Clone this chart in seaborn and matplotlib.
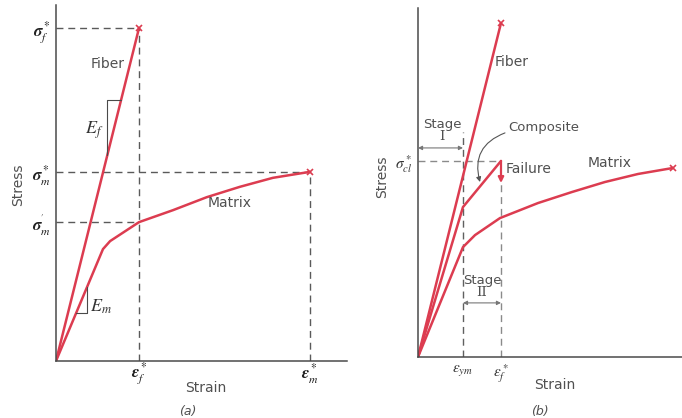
import matplotlib
matplotlib.use("Agg")
import matplotlib.pyplot as plt
import seaborn as sns
import pandas as pd

# ---- panel (a): single fibre vs matrix (normalised units) ----
eps_f_a = 0.327          # fibre failure strain
eps_m_a = 1.0            # matrix failure strain
sig_f_a = 1.0            # fibre strength
sig_m_star = 0.568       # matrix strength
sig_m_prime = 0.417      # matrix stress at fibre failure strain

fiber_a_strain = [0.0, eps_f_a]
fiber_a_stress = [0.0, sig_f_a]
matrix_a_strain = [0.0, 0.185, 0.213, 0.327, 0.461, 0.594, 0.724, 0.854, 1.0]
matrix_a_stress = [0.0, 0.336, 0.360, 0.417, 0.453, 0.492, 0.523, 0.550, 0.568]

# ---- panel (b): fibre, matrix and composite ----
eps_ym = 0.542
eps_f_b = 1.0
sig_cl = 0.587
fiber_b_strain = [0.0, 1.0]
fiber_b_stress = [0.0, 1.0]
comp_strain = [0.0, eps_ym, eps_f_b]
comp_stress = [0.0, 0.449, sig_cl]
comp_drop_to = 0.521
matrix_b_strain = [0.0, 0.542, 0.687, 0.988, 1.446, 1.855, 2.253, 2.651, 3.072]
matrix_b_stress = [0.0, 0.329, 0.365, 0.416, 0.461, 0.494, 0.524, 0.548, 0.566]

RED = "#dc3c50"
GRAY = "#4a4a4a"
DASH = "#5a5a5a"
TXT = "#505050"

W, H = 682, 418

sns.set_style("white")
plt.rcParams["mathtext.fontset"] = "stix"
plt.rcParams["font.family"] = ["DejaVu Sans"]

fig = plt.figure(figsize=(W / 100, H / 100), dpi=100)


def px(x, y):
    return x / W, 1 - y / H


def curve(ax, xs, ys):
    df = pd.DataFrame({"strain": xs, "stress": ys})
    sns.lineplot(data=df, x="strain", y="stress", ax=ax, color=RED, lw=1.8,
                 sort=False, estimator=None)
    ax.plot(xs[-1], ys[-1], marker="x", color=RED, ms=5, mew=1.2)


def dashed(ax, xs, ys, color=DASH):
    ax.plot(xs, ys, ls=(0, (5, 3.5)), color=color, lw=1.0)


def style_axes(ax, xpad=4):
    sns.despine(ax=ax)
    for s in ("left", "bottom"):
        ax.spines[s].set_color(GRAY)
        ax.spines[s].set_linewidth(1.1)
    ax.tick_params(axis="y", length=0, pad=4)
    ax.tick_params(axis="x", length=0, pad=xpad)
    ax.set_xlabel("")
    ax.set_ylabel("")


# ================= (a) =================
ax1 = fig.add_axes([56 / W, 1 - 361 / H, 291 / W, 356 / H])
ax1.set_xlim(0, 1.146)
ax1.set_ylim(0, 1.069)

dashed(ax1, [0, eps_f_a], [sig_f_a, sig_f_a])
dashed(ax1, [eps_f_a, eps_f_a], [0, sig_f_a])
dashed(ax1, [0, eps_m_a], [sig_m_star, sig_m_star])
dashed(ax1, [eps_m_a, eps_m_a], [0, sig_m_star])
dashed(ax1, [0, eps_f_a], [sig_m_prime, sig_m_prime])

curve(ax1, fiber_a_strain, fiber_a_stress)
curve(ax1, matrix_a_strain, matrix_a_stress)

# slope triangles
yf0, yf1 = 0.619, 0.784
ax1.plot([yf0 * eps_f_a, yf0 * eps_f_a, yf1 * eps_f_a], [yf0, yf1, yf1],
         color=GRAY, lw=0.8)
slope_m = matrix_a_stress[1] / matrix_a_strain[1]
xm0, xm1 = 0.079, 0.122
ax1.plot([xm0, xm1, xm1], [xm0 * slope_m, xm0 * slope_m, xm1 * slope_m],
         color=GRAY, lw=0.8)

ax1.text(0.150, 0.694, r"$E_f$", fontsize=13, ha="center", va="center", color="#333")
ax1.text(0.178, 0.162, r"$E_m$", fontsize=13, ha="center", va="center", color="#333")
ax1.text(0.205, 0.892, "Fiber", fontsize=10, ha="center", va="center", color=TXT)
ax1.text(0.685, 0.474, "Matrix", fontsize=10, ha="center", va="center", color=TXT)

ax1.set_yticks([sig_m_prime, sig_m_star, sig_f_a],
               [r"$\boldsymbol{\sigma}_m^{'}$", r"$\boldsymbol{\sigma}_m^*$",
                r"$\boldsymbol{\sigma}_f^*$"])
ax1.set_xticks([eps_f_a, eps_m_a],
               [r"$\boldsymbol{\epsilon}_f^*$", r"$\boldsymbol{\epsilon}_m^*$"])
style_axes(ax1, xpad=0)
for lab in ax1.get_xticklabels() + ax1.get_yticklabels():
    lab.set_fontsize(12)
    lab.set_color("#222")

# ================= (b) =================
ax2 = fig.add_axes([418 / W, 1 - 357 / H, 264 / W, 349 / H])
ax2.set_xlim(0, 3.181)
ax2.set_ylim(0, 1.045)

LDASH = "#8a8a8a"
dashed(ax2, [0, eps_f_b], [sig_cl, sig_cl], LDASH)
dashed(ax2, [eps_ym, eps_ym], [0, 0.674], "#606060")
dashed(ax2, [eps_f_b, eps_f_b], [0, comp_drop_to], LDASH)

curve(ax2, fiber_b_strain, fiber_b_stress)
df_c = pd.DataFrame({"strain": comp_strain, "stress": comp_stress})
sns.lineplot(data=df_c, x="strain", y="stress", ax=ax2, color=RED, lw=1.8,
             sort=False, estimator=None)
ax2.annotate("", xy=(eps_f_b, comp_drop_to), xytext=(eps_f_b, sig_cl),
             arrowprops=dict(arrowstyle="-|>", color=RED, lw=1.6,
                             mutation_scale=8, shrinkA=0, shrinkB=0))
curve(ax2, matrix_b_strain, matrix_b_stress)

# stage arrows
ax2.annotate("", xy=(0, 0.626), xytext=(eps_ym, 0.626),
             arrowprops=dict(arrowstyle="<|-|>", color="#777", lw=0.8,
                             mutation_scale=6, shrinkA=0, shrinkB=0))
ax2.annotate("", xy=(eps_ym, 0.162), xytext=(eps_f_b, 0.162),
             arrowprops=dict(arrowstyle="<|-|>", color="#777", lw=0.8,
                             mutation_scale=6, shrinkA=0, shrinkB=0))
ax2.text(0.289, 0.697, "Stage", fontsize=9.5, ha="center", va="center", color=TXT)
ax2.text(0.289, 0.659, "I", fontsize=9.5, ha="center", va="center", color=TXT,
         family="DejaVu Serif")
ax2.text(0.771, 0.228, "Stage", fontsize=9.5, ha="center", va="center", color=TXT)
ax2.text(0.771, 0.192, "II", fontsize=9.5, ha="center", va="center", color=TXT,
         family="DejaVu Serif")

ax2.annotate("", xy=(0.747, 0.524), xytext=(1.048, 0.671),
             arrowprops=dict(arrowstyle="-|>", color="#555", lw=0.8,
                             mutation_scale=7, shrinkA=0, shrinkB=0,
                             connectionstyle="arc3,rad=0.45"))
ax2.text(1.09, 0.686, "Composite", fontsize=9.5, ha="left", va="center", color=TXT)
ax2.text(1.06, 0.563, "Failure", fontsize=10, ha="left", va="center", color=TXT)
ax2.text(2.313, 0.581, "Matrix", fontsize=10, ha="center", va="center", color=TXT)
ax2.text(1.133, 0.883, "Fiber", fontsize=10, ha="center", va="center", color=TXT)

ax2.set_yticks([sig_cl], [r"$\sigma_{cl}^*$"])
ax2.set_xticks([eps_ym, eps_f_b], [r"$\epsilon_{ym}$", r"$\epsilon_f^*$"])
style_axes(ax2)
for lab in ax2.get_xticklabels() + ax2.get_yticklabels():
    lab.set_fontsize(11)
    lab.set_color("#333")

# axis titles and panel tags
fig.text(*px(18, 185), "Stress", rotation=90, ha="center", va="center",
         fontsize=10, color=TXT)
fig.text(*px(206, 388), "Strain", ha="center", va="center", fontsize=10, color=TXT)
fig.text(*px(188, 411), "(a)", ha="center", va="center", fontsize=9,
         style="italic", color=TXT)
fig.text(*px(382, 177), "Stress", rotation=90, ha="center", va="center",
         fontsize=10, color=TXT)
fig.text(*px(555, 385), "Strain", ha="center", va="center", fontsize=10, color=TXT)
fig.text(*px(540, 411), "(b)", ha="center", va="center", fontsize=9,
         style="italic", color=TXT)

fig.savefig("out.png", dpi=100)
